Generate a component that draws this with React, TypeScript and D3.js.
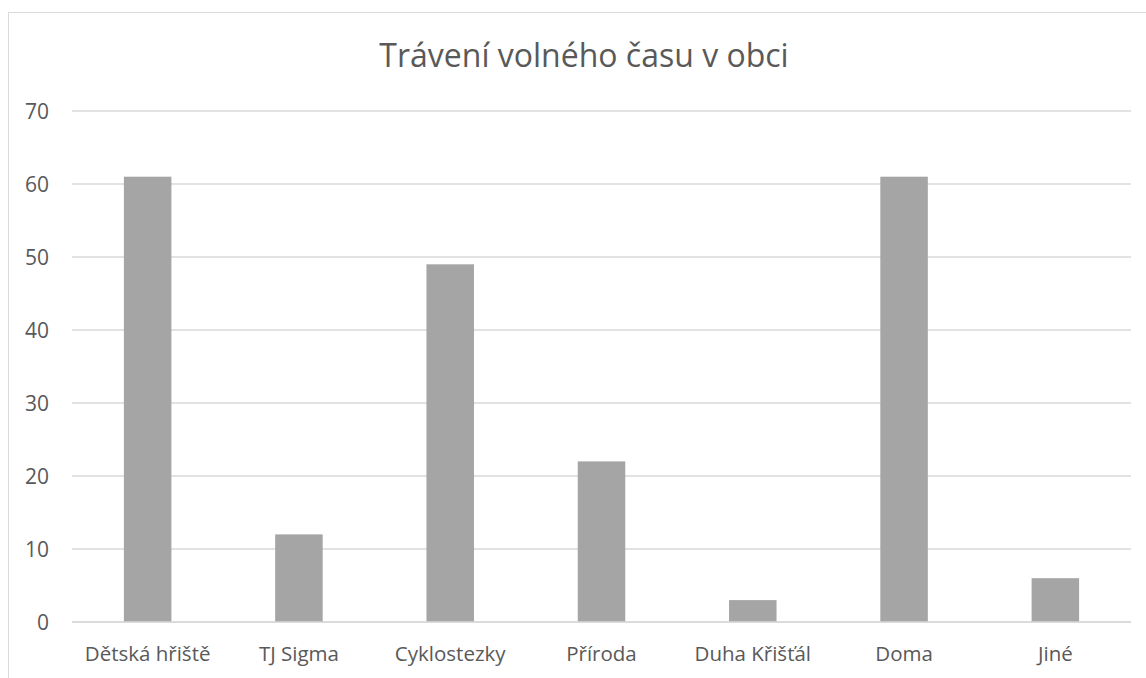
import React from "react";
import * as d3 from "d3";

const categories = ["Dětská hřiště", "TJ Sigma", "Cyklostezky", "Příroda", "Duha Křišťál", "Doma", "Jiné"];
const values = [61, 12, 49, 22, 3, 61, 6];
const yTicks = [0, 10, 20, 30, 40, 50, 60, 70];
const title = "Trávení volného času v obci";

const W = 1146;
const H = 678;
const FONT = "'Open Sans', 'Liberation Sans', sans-serif";
const TEXT = "#595959";

export default function App() {
  const x = d3.scaleBand<string>().domain(categories).range([72, 1131]).paddingInner(0.686).paddingOuter(0.343);
  const y = d3.scaleLinear().domain([0, 70]).range([622, 111]);
  return (
    <svg width={W} height={H} style={{ position: "absolute", left: 0, top: 0 }} fontFamily={FONT}>
      <rect x={0} y={0} width={W} height={H} fill="#ffffff" />
      <line x1={8} x2={W + 5} y1={12.5} y2={12.5} stroke="#d9d9d9" strokeWidth={1} />
      <line x1={8.5} x2={8.5} y1={12} y2={H + 5} stroke="#d9d9d9" strokeWidth={1} />
      <text x={584} y={67} textAnchor="middle" fontSize={32} fill={TEXT}>{title}</text>
      {yTicks.map((t) => (
        <g key={t}>
          <line x1={72} x2={1131} y1={y(t)} y2={y(t)} stroke="#d9d9d9" strokeWidth={1.3} />
          <text x={49} y={y(t)} dy="0.36em" textAnchor="end" fontSize={21} fill={TEXT}>{t}</text>
        </g>
      ))}
      {categories.map((c, i) => (
        <rect key={c} x={x(c)} y={y(values[i])} width={x.bandwidth()} height={y(0) - y(values[i])} fill="#a5a5a5" />
      ))}
      <line x1={72} x2={1131} y1={y(0)} y2={y(0)} stroke="#d9d9d9" strokeWidth={1.3} />
      {categories.map((c) => (
        <text key={c} x={(x(c) as number) + x.bandwidth() / 2} y={661} textAnchor="middle" fontSize={20.5} fill={TEXT}>{c}</text>
      ))}
    </svg>
  );
}
